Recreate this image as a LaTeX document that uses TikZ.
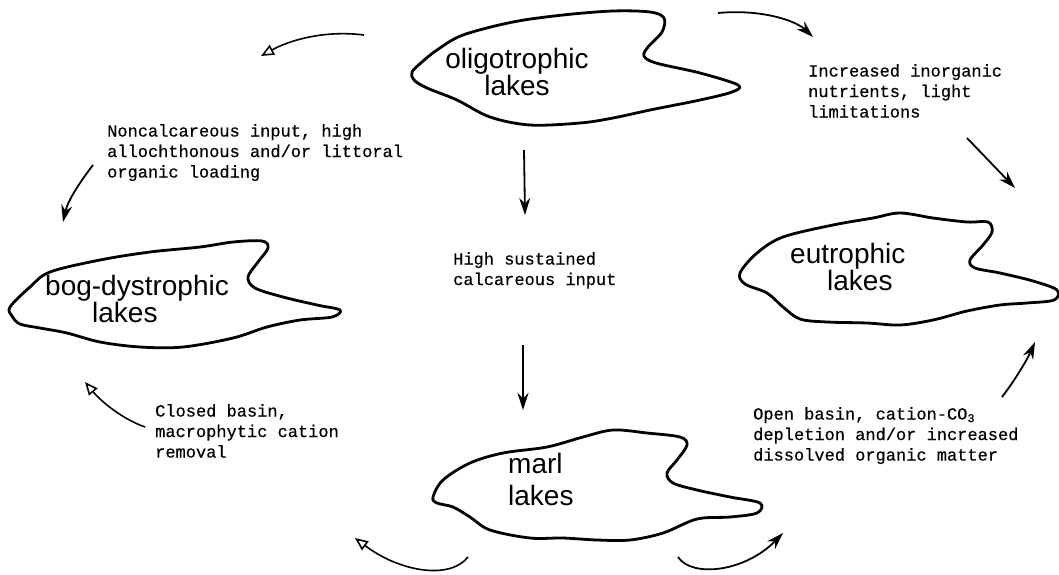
\documentclass[tikz,border=0pt]{standalone}
\usepackage{fontspec}
\setmainfont{Liberation Sans}
\newfontfamily\twfont[FakeBold=0.5]{Liberation Mono}
\usetikzlibrary{arrows.meta}
\begin{document}
\begin{tikzpicture}[x=1pt,y=-1pt,
  blob/.style={line width=2.8pt, line join=round},
  lbl/.style={font=\fontsize{28}{27}\selectfont, inner sep=0pt},
  note/.style={font=\twfont\fontsize{17}{20.5}\selectfont, align=left, anchor=north west, inner sep=0pt},
  arr/.style={line width=1.8pt, -{Stealth[length=17pt,width=11pt]}},
  oarr/.style={line width=1.6pt, -{Triangle[open,length=13pt,width=11pt,line width=1.6pt]}}]
\useasboundingbox (0,0) rectangle (1059,574);
% lake outlines
\draw[blob] plot[smooth cycle, tension=0.55] coordinates {(412,72) (422,62) (437,50) (463,35) (513,22) (563,15) (613,11) (650,12) (664,18) (662,32) (648,47) (644,56) (656,63) (700,73) (738,85) (732,92) (700,100) (650,110) (613,118) (580,123) (530,125) (490,117) (457,100) (427,88) (414,80)};
\draw[blob] plot[smooth cycle, tension=0.55] coordinates {(10,307) (30,287) (50,272) (100,260) (150,252) (200,247) (233,242) (262,241) (268,248) (258,262) (248,277) (255,288) (283,297) (317,305) (340,310) (332,317) (300,320) (267,327) (233,338) (183,347) (140,347) (100,342) (67,333) (40,328) (20,324) (12,316)};
\draw[blob] plot[smooth cycle, tension=0.55] coordinates {(740,273) (757,253) (783,237) (833,225) (873,218) (900,213) (933,218) (967,222) (988,222) (992,232) (983,245) (970,260) (975,268) (1000,273) (1033,281) (1057,290) (1054,300) (1027,303) (1000,305) (967,311) (933,320) (900,325) (867,323) (827,322) (800,319) (783,307) (767,293) (745,284)};
\draw[blob] plot[smooth cycle, tension=0.55] coordinates {(433,497) (443,480) (470,463) (503,453) (547,447) (583,437) (613,430) (647,433) (680,437) (687,445) (677,460) (667,473) (673,483) (697,490) (730,497) (760,503) (757,513) (730,517) (697,519) (663,533) (630,540) (597,540) (563,538) (530,538) (490,530) (470,517) (453,507) (437,503)};
% lake labels
\node[lbl, align=center, anchor=north] (oligo) at (517,48) {oligotrophic\\lakes};
\node[lbl, align=left, anchor=north west] (bog) at (45,275) {bog-dystrophic\\\hspace*{47pt}lakes};
\node[lbl, align=left, anchor=north west] (eu) at (790,243) {eutrophic\\\hspace*{37pt}lakes};
\node[lbl, align=left, anchor=north west, font=\fontsize{28}{32}\selectfont] (marl) at (508,453) {marl\\lakes};
% process labels
\node[note] (tA) at (107,124) {Noncalcareous input, high\\allochthonous and/or littoral\\organic loading};
\node[note] (tB) at (808,64) {Increased inorganic\\nutrients, light\\limitations};
\node[note] (tC) at (453,252) {High sustained\\calcareous input};
\node[note] (tD) at (155,404) {Closed basin,\\macrophytic cation\\removal};
\node[note] (tE) at (753,407) {Open basin, cation-CO\textsubscript{3}\\depletion and/or increased\\dissolved organic matter};
% arrow ends
\coordinate (a1s) at (364,35);  \coordinate (a1e) at (261,56);
\coordinate (a2s) at (93,165);  \coordinate (a2e) at (63,222);
\coordinate (a3s) at (145,427); \coordinate (a3e) at (85,382);
\coordinate (a4s) at (468,557); \coordinate (a4e) at (355,538);
\coordinate (a5s) at (678,557); \coordinate (a5e) at (783,533);
\coordinate (a6s) at (1002,397);\coordinate (a6e) at (1035,342);
\coordinate (a7s) at (718,13);  \coordinate (a7e) at (813,37);
\coordinate (a8s) at (967,138); \coordinate (a8e) at (1015,188);
\coordinate (v1s) at (524,150); \coordinate (v1e) at (525,215);
\coordinate (v2s) at (523,345); \coordinate (v2e) at (523,410);
% arrows
\draw[oarr] (a1s) .. controls (325,30) and (290,40) .. (a1e);
\draw[arr] (a2s) .. controls (80,182) and (68,200) .. (a2e);
\draw[oarr] (a3s) .. controls (120,418) and (100,400) .. (a3e);
\draw[oarr] (a4s) .. controls (450,580) and (400,572) .. (a4e);
\draw[arr] (a5s) .. controls (692,578) and (745,572) .. (a5e);
\draw[arr] (a6s) .. controls (1015,380) and (1027,360) .. (a6e);
\draw[arr] (a7s) .. controls (760,9) and (795,20) .. (a7e);
\draw[arr] (a8s) -- (a8e);
\draw[arr] (v1s) -- (v1e);
\draw[arr] (v2s) -- (v2e);
\end{tikzpicture}
\end{document}
